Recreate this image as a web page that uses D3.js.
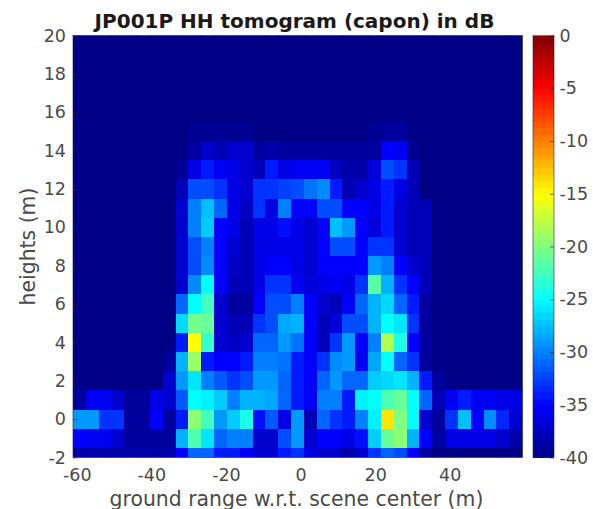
<!DOCTYPE html>
<html lang="en">
<head>
    <meta charset="UTF-8">
    <title>JP001P HH tomogram</title>
    <style>
        html, body { margin: 0; padding: 0; background: #fff; }
        svg { display: block; }
        text { font-family: "DejaVu Sans", sans-serif; fill: #4a4a4a; }
        .tick text { font-size: 17.5px; }
        .axis-line { stroke: #262626; stroke-width: 0.6; }
    </style>
    <script src="https://d3js.org/d3.v7.min.js"></script>
</head>
<body>
<script>
    // column centres (m) and row heights (m)
    const groundRange = [-59.28,-55.84,-52.40,-48.96,-45.52,-42.08,-38.64,-35.20,-31.76,-28.32,-24.88,-21.44,-18.00,-14.56,-11.12,-7.68,-4.24,-0.80,2.64,6.08,9.52,12.96,16.40,19.84,23.28,26.72,30.16,33.60,37.04,40.48,43.92,47.36,50.80,54.24,57.68];
    const heights = [20,19,18,17,16,15,14,13,12,11,10,9,8,7,6,5,4,3,2,1,0,-1,-2];

    const xTicks = [-60,-40,-20,0,20,40];
    const yTicks = [-2,0,2,4,6,8,10,12,14,16,18,20];
    const barTicks = [0,-5,-10,-15,-20,-25,-30,-35,-40];

    // dB values, one line per height, top row first
    const tomogram = [
        [-40,-40,-40,-40,-40,-40,-40,-40,-40,-40,-40,-40,-40,-40,-40,-40,-40,-40,-40,-40,-40,-40,-40,-40,-40,-40,-40,-40,-40,-40,-40,-40,-40,-40,-40],
        [-40,-40,-40,-40,-40,-40,-40,-40,-40,-40,-40,-40,-40,-40,-40,-40,-40,-40,-40,-40,-40,-40,-40,-40,-40,-40,-40,-40,-40,-40,-40,-40,-40,-40,-40],
        [-40,-40,-40,-40,-40,-40,-40,-40,-40,-40,-40,-40,-40,-40,-40,-40,-40,-40,-40,-40,-40,-40,-40,-40,-40,-40,-40,-40,-40,-40,-40,-40,-40,-40,-40],
        [-40,-40,-40,-40,-40,-40,-40,-40,-40,-40,-40,-40,-40,-40,-40,-40,-40,-40,-40,-40,-40,-40,-40,-40,-40,-40,-40,-40,-40,-40,-40,-40,-40,-40,-40],
        [-40,-40,-40,-40,-40,-40,-40,-40,-40,-40,-40,-40,-40,-40,-40,-40,-40,-40,-40,-40,-40,-40,-40,-40,-40,-40,-40,-40,-40,-40,-40,-40,-40,-40,-40],
        [-40,-40,-40,-40,-40,-40,-40,-40,-40,-39.5,-39.5,-39.5,-39.5,-39.5,-40,-40,-40,-40,-40,-40,-40,-40,-40,-39.5,-39,-39,-40,-40,-40,-40,-40,-40,-40,-40,-40],
        [-40,-40,-40,-40,-40,-40,-40,-40,-40,-39,-37,-38,-37,-37,-39,-38.5,-39,-39,-39,-39,-39,-39,-39,-39,-35,-35.5,-39.5,-40,-40,-40,-40,-40,-40,-40,-40],
        [-40,-40,-40,-40,-40,-40,-40,-40,-39.5,-36,-34,-35.5,-36,-37,-38,-34,-36,-35.5,-35.5,-35.5,-37.5,-38.5,-38.5,-36.5,-32,-33,-38,-40,-40,-40,-40,-40,-40,-40,-40],
        [-40,-40,-40,-40,-40,-40,-40,-40,-38,-32,-32,-33,-36,-37,-33,-33,-32.5,-32,-30.5,-29.5,-34,-38,-37,-36,-34,-36,-38,-40,-40,-40,-40,-40,-40,-40,-40],
        [-40,-40,-40,-40,-40,-40,-40,-40,-37,-30,-27.5,-31,-36,-37.5,-33,-36,-30,-35,-35,-32,-32,-35,-35,-36,-34,-37,-38,-38,-40,-40,-40,-40,-40,-40,-40],
        [-40,-40,-40,-40,-40,-40,-40,-40,-37,-30,-27,-35,-36,-38,-36,-36,-34.5,-36,-37,-35,-27.5,-29,-35,-36.5,-34,-37,-38,-38,-40,-40,-40,-40,-40,-40,-40],
        [-40,-40,-40,-40,-40,-40,-40,-40,-37,-32,-30,-35,-37,-38,-36,-36,-36,-36,-37,-35,-32,-32,-35,-33,-33,-37,-38,-38,-40,-40,-40,-40,-40,-40,-40],
        [-40,-40,-40,-40,-40,-40,-40,-40,-37,-32,-29.5,-35,-37.5,-38,-36,-35,-35,-36,-37,-35,-35,-35,-35,-29,-30,-35,-37,-38,-40,-40,-40,-40,-40,-40,-40],
        [-40,-40,-40,-40,-40,-40,-40,-40,-37,-29.5,-25,-35,-38,-38,-36,-33,-33,-35.5,-36.5,-36,-35.5,-36,-33,-21.5,-28,-33,-35,-38,-40,-40,-40,-40,-40,-40,-40],
        [-40,-40,-40,-40,-40,-40,-40,-40,-31,-25,-22.5,-37,-39,-39,-35,-32,-32,-30,-35,-37,-38,-35,-31,-28,-26.5,-31,-34,-39,-40,-40,-40,-40,-40,-40,-40],
        [-40,-40,-40,-40,-40,-40,-40,-40,-26.5,-20.5,-21,-37,-38,-38,-33,-32,-28.5,-28,-35,-38,-36.5,-32,-32,-28,-25,-26,-33,-39,-40,-40,-40,-40,-40,-40,-40],
        [-40,-40,-40,-40,-40,-40,-40,-40,-34,-15,-23,-37,-37.5,-37,-31,-31,-29,-30.5,-35,-38,-33,-29,-35,-30,-18,-24,-35,-39,-40,-40,-40,-40,-40,-40,-40],
        [-40,-40,-40,-40,-40,-40,-40,-39,-28,-19,-34,-35,-35,-34,-30,-30,-30.5,-34,-35,-33,-29.5,-29,-35.5,-28.5,-25,-31,-33,-39,-40,-40,-40,-40,-40,-40,-40],
        [-40,-40,-40,-40,-40,-40,-40,-37,-29,-26,-30,-31.5,-33,-32,-29,-29,-31,-34,-35,-31,-29,-31,-31,-27,-26.5,-26,-28,-34,-39,-40,-40,-40,-40,-40,-40],
        [-39,-35.5,-35.5,-37,-39,-39,-36,-37,-31.5,-25,-25.5,-27,-30,-28,-28,-28.5,-31,-34,-35,-30,-30,-34,-25.5,-25,-22,-21,-25,-31,-38,-35.5,-34,-35.5,-35.5,-36,-36],
        [-29,-29,-33,-33,-39,-39,-35,-39,-34,-19.5,-22.5,-29,-27,-24,-34.5,-31.5,-36,-29,-38,-31,-33,-34,-30,-25.5,-14,-20,-25,-37,-39,-33,-27.5,-35,-29.5,-33.5,-37],
        [-35,-35.5,-35.5,-37,-39,-39,-39,-39,-28,-22,-26,-31,-30,-30,-37,-37,-32,-29,-37,-35,-35,-36,-34.5,-27,-21,-19.5,-28,-35,-39,-36,-36,-36,-36,-37,-38.5],
        [-38.5,-38.5,-38.5,-38.5,-38.5,-38.5,-38.5,-38.5,-35,-31,-31,-34,-34,-35.5,-37,-37,-34,-33,-36,-37,-37,-38.5,-37,-33,-31,-32,-35,-39,-40,-40,-40,-40,-40,-40,-40]
    ];

    const width = 593, height = 509;
    const plot = {left: 73, right: 522.5, top: 35.5, bottom: 457.5};
    const bar = {left: 533, right: 554};

    const x = d3.scaleLinear().domain([-61, 59.5]).range([plot.left, plot.right]);
    const y = d3.scaleLinear().domain([-2, 20]).range([plot.bottom, plot.top]);
    const cellW = x(3.44) - x(0);
    const cellH = y(0) - y(1);

    // MATLAB jet
    const jet = d3.scaleLinear()
        .domain([-40, -35, -25, -15, -5, 0])
        .range(["#000087", "#0000ff", "#00ffff", "#ffff00", "#ff0000", "#800000"])
        .clamp(true);

    const svg = d3.select("body").append("svg")
        .attr("width", width)
        .attr("height", height);

    svg.append("clipPath").attr("id", "plot-clip")
        .append("rect")
        .attr("x", plot.left).attr("y", plot.top)
        .attr("width", plot.right - plot.left)
        .attr("height", plot.bottom - plot.top);

    // heatmap cells, flattened from the table
    const cells = [];
    tomogram.forEach((row, i) => row.forEach((v, j) => {
        cells.push({range: groundRange[j], h: heights[i], v: v});
    }));

    svg.append("g").attr("clip-path", "url(#plot-clip)")
        .attr("shape-rendering", "crispEdges")
        .selectAll("rect")
        .data(cells)
        .enter()
        .append("rect")
        .attr("x", d => x(d.range) - cellW / 2)
        .attr("y", d => y(d.h) - cellH / 2)
        .attr("width", cellW + 0.6)
        .attr("height", cellH + 0.6)
        .attr("fill", d => jet(d.v));

    // axes, ticks point inwards like matlab
    const label = d => String(d);
    const xAxis = svg.append("g")
        .attr("transform", "translate(0," + plot.bottom + ")")
        .call(d3.axisBottom(x).tickValues(xTicks).tickFormat(label).tickSize(-4.5).tickPadding(11));
    const yAxis = svg.append("g")
        .attr("transform", "translate(" + plot.left + ",0)")
        .call(d3.axisLeft(y).tickValues(yTicks).tickFormat(label).tickSize(-4.5).tickPadding(7));

    [xAxis, yAxis].forEach(a => {
        a.select(".domain").remove();
        a.selectAll(".tick line").attr("stroke", "#262626").attr("stroke-width", 0.6);
    });

    svg.append("rect")
        .attr("class", "axis-line")
        .attr("x", plot.left).attr("y", plot.top)
        .attr("width", plot.right - plot.left)
        .attr("height", plot.bottom - plot.top)
        .attr("fill", "none");

    // colorbar
    const barY = d3.scaleLinear().domain([-40, 0]).range([plot.bottom, plot.top]);
    const barLevels = d3.range(-40, 0, 0.625);
    svg.append("g").attr("shape-rendering", "crispEdges")
        .selectAll("rect")
        .data(barLevels)
        .enter()
        .append("rect")
        .attr("x", bar.left)
        .attr("y", d => barY(d + 0.625))
        .attr("width", bar.right - bar.left)
        .attr("height", barY(0) - barY(0.625) + 0.6)
        .attr("fill", d => jet(d + 0.3125));

    const barAxis = svg.append("g")
        .attr("transform", "translate(" + bar.right + ",0)")
        .call(d3.axisRight(barY).tickValues(barTicks).tickFormat(label).tickSize(-4).tickPadding(5.5));
    barAxis.select(".domain").remove();
    barAxis.selectAll(".tick line").attr("stroke", "#262626").attr("stroke-width", 0.6);

    svg.append("rect")
        .attr("class", "axis-line")
        .attr("x", bar.left).attr("y", plot.top)
        .attr("width", bar.right - bar.left)
        .attr("height", plot.bottom - plot.top)
        .attr("fill", "none");

    // labels
    svg.append("text")
        .attr("x", 294.5).attr("y", 28)
        .attr("text-anchor", "middle")
        .style("font-size", "20px")
        .style("font-weight", "bold")
        .style("fill", "#1a1a1a")
        .text("JP001P HH tomogram (capon) in dB");

    svg.append("text")
        .attr("x", 296.5).attr("y", 506)
        .attr("text-anchor", "middle")
        .style("font-size", "20.4px")
        .text("ground range w.r.t. scene center (m)");

    svg.append("text")
        .attr("transform", "translate(35,246.5) rotate(-90)")
        .attr("text-anchor", "middle")
        .style("font-size", "20.4px")
        .text("heights (m)");
</script>
</body>
</html>
